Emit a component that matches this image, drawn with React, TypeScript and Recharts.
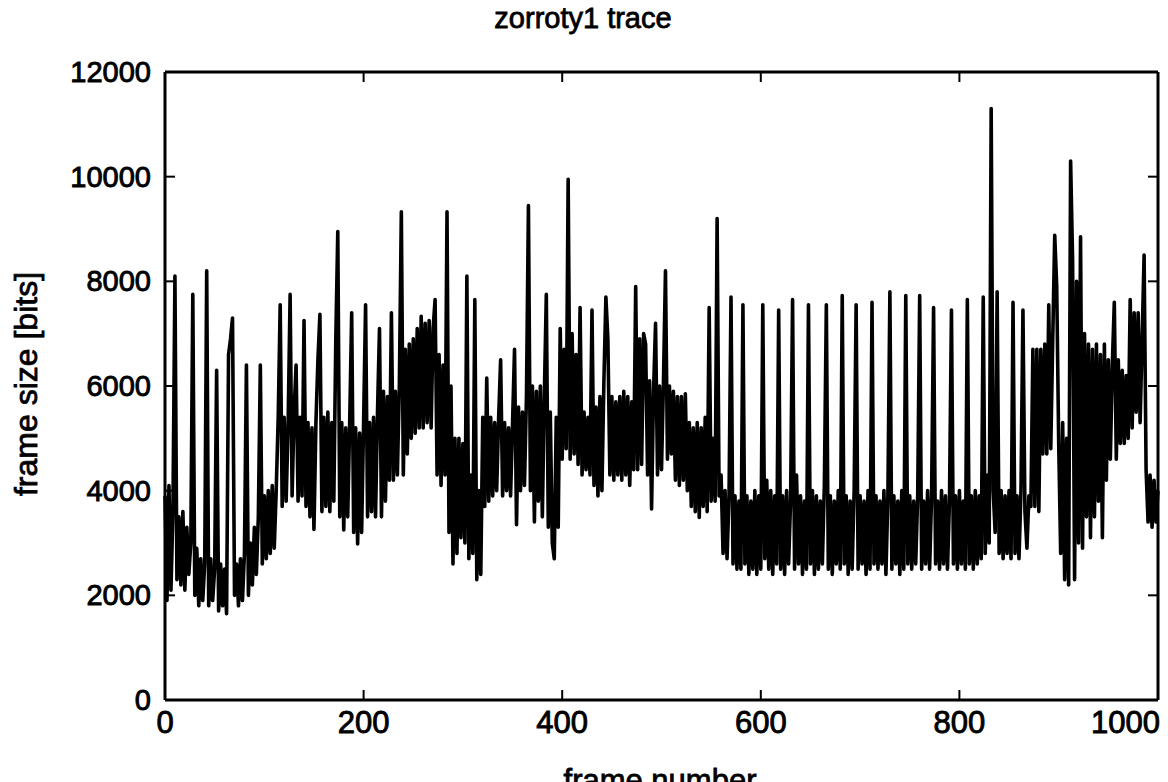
import { LineChart, Line, XAxis, YAxis, ReferenceLine } from "recharts";

// one sample every FRAME_STEP frames (bits)
const FRAME_STEP = 2;
const frameSizes = [
  3900, 1900, 4100, 2100, 3600, 8100, 2300, 3500, 2200, 3600,
  2100, 3300, 2400, 3000, 7750, 2000, 2900, 1800, 2700, 1900,
  2600, 8200, 1800, 2700, 1900, 2500, 6300, 1700, 2600, 1800,
  2500, 1650, 6600, 6900, 7300, 2000, 2600, 1800, 2700, 1900,
  2800, 6400, 2000, 3000, 2200, 3300, 2400, 3500, 6400, 2600,
  3900, 2700, 4000, 2800, 4100, 2900, 4000, 5400, 7550, 3700,
  5400, 3800, 5300, 7750, 3900, 5500, 6400, 3800, 5400, 3900,
  7250, 3700, 5300, 3500, 5200, 3260, 5300, 6500, 7370, 3600,
  5400, 3700, 5500, 3600, 5300, 3800, 6900, 8950, 3500, 5300,
  3250, 5200, 3500, 5300, 7400, 3200, 5200, 2980, 5100, 3200,
  5300, 7550, 3500, 5300, 3600, 5400, 3500, 5500, 7100, 3500,
  5900, 3800, 5800, 4200, 7400, 4200, 5900, 4300, 6000, 9330,
  4300, 6700, 4700, 6800, 5000, 6900, 5100, 7100, 5200, 7330,
  5200, 7200, 5300, 7250, 5200, 7100, 7650, 4300, 6600, 4100,
  6400, 4300, 9330, 3200, 6000, 2600, 5000, 2800, 5000, 3100,
  4900, 3000, 8100, 2700, 4300, 2800, 7650, 2300, 4000, 2400,
  5400, 3700, 6150, 3800, 5400, 3900, 5300, 4000, 5400, 6500,
  3900, 5300, 4000, 5200, 3900, 5300, 6700, 3350, 5600, 4000,
  5500, 4100, 5800, 9450, 4000, 6000, 3400, 5900, 3800, 6000,
  3500, 5800, 7750, 3300, 5500, 3000, 2700, 5400, 3300, 7100,
  4600, 6700, 4800, 9950, 4600, 7000, 4700, 6600, 4500, 7500,
  4300, 5500, 4400, 5400, 4300, 7450, 4100, 5600, 3900, 5800,
  4000, 6100, 7700, 6900, 4300, 5800, 4200, 5700, 4300, 5800,
  4200, 5900, 4300, 5800, 4100, 5700, 4400, 7900, 4400, 6900,
  4500, 7000, 6800, 4300, 6100, 3650, 5900, 7200, 4300, 6000,
  4400, 6100, 8200, 4600, 6000, 4700, 5900, 4200, 5800, 4100,
  5800, 4200, 5850, 4000, 5300, 3700, 5200, 3600, 5300, 3490,
  5200, 3700, 5400, 3600, 7500, 3800, 5000, 3800, 9200, 3900,
  4300, 2800, 4000, 2700, 3900, 7700, 2600, 3900, 2500, 3800,
  2500, 7550, 2600, 3900, 2400, 3800, 2500, 4000, 2400, 3900,
  2500, 7550, 2700, 4200, 2500, 4000, 2400, 3900, 2600, 7450,
  2500, 3900, 2400, 4000, 2600, 3800, 7650, 2500, 4300, 2600,
  3900, 2400, 3800, 2500, 7550, 2600, 4000, 2400, 3900, 2500,
  3800, 2600, 4100, 7550, 2500, 3900, 2400, 3800, 2600, 4000,
  2500, 7730, 2600, 3900, 2400, 3800, 2500, 4000, 7550, 2500,
  3900, 2600, 3800, 2400, 4000, 2500, 7600, 2600, 3900, 2500,
  3800, 2600, 4000, 2400, 3900, 7800, 2500, 3900, 2600, 3800,
  2400, 4000, 2500, 7730, 2600, 3900, 2500, 3800, 2600, 3900,
  7730, 2500, 3800, 2600, 4000, 2500, 3900, 7500, 2600, 3800,
  2500, 4000, 2600, 3900, 2500, 3800, 7450, 2600, 3900, 2500,
  4000, 2600, 3800, 2500, 7650, 2600, 3900, 2500, 4000, 2600,
  3900, 2700, 7700, 2800, 4300, 3000, 11300, 4000, 3200, 7800,
  2800, 4000, 2700, 3900, 2800, 4000, 2700, 7600, 2800, 3900,
  2700, 4000, 7450, 3600, 2900, 3900, 3700, 6700, 3700, 6700,
  3600, 6700, 4700, 6800, 4700, 7550, 4800, 6900, 8880, 7900,
  4900, 2800, 5300, 2300, 5000, 2200, 10300, 8400, 2300, 8000,
  3000, 8850, 2900, 7000, 3500, 6800, 3100, 6700, 3500, 6800,
  3800, 6600, 3100, 6800, 4200, 6500, 4600, 6400, 7600, 4600,
  6500, 4900, 6300, 4900, 6200, 5000, 7650, 5200, 7400, 5500,
  7400, 5300, 6900, 8500, 4400, 3400, 4300, 3300, 4200, 3400,
  4000,
];

const xTicks = [0, 200, 400, 600, 800, 1000];
const yTicks = [0, 2000, 4000, 6000, 8000, 10000, 12000];

const data = frameSizes.map((size, i) => ({ frame: i * FRAME_STEP, size }));

const W = 1168;
const H = 782;
const PLOT = { left: 165, right: 1158, top: 72, bottom: 700 };
const FONT = "'Liberation Sans', Arial, Helvetica, sans-serif";
const TICK_LEN = 10;

const XTick = ({ x, payload }: any) => {
  const v = payload.value;
  const edge = v === xTicks[0] || v === xTicks[xTicks.length - 1];
  return (
    <g>
      {!edge && (
        <>
          <line x1={x} x2={x} y1={PLOT.bottom} y2={PLOT.bottom - TICK_LEN} stroke="#000" strokeWidth={2} />
          <line x1={x} x2={x} y1={PLOT.top} y2={PLOT.top + TICK_LEN} stroke="#000" strokeWidth={2} />
        </>
      )}
      <text
        x={v === 1000 ? x + 2 : x}
        y={PLOT.bottom + 33}
        textAnchor={v === 1000 ? "end" : "middle"}
        fontFamily={FONT}
        fontSize={31}
        fill="#000"
        stroke="#000"
        strokeWidth={0.9}
      >
        {v}
      </text>
    </g>
  );
};

const YTick = ({ y, payload }: any) => {
  const v = payload.value;
  const edge = v === yTicks[0] || v === yTicks[yTicks.length - 1];
  return (
    <g>
      {!edge && (
        <>
          <line x1={PLOT.left} x2={PLOT.left + TICK_LEN} y1={y} y2={y} stroke="#000" strokeWidth={2} />
          <line x1={PLOT.right} x2={PLOT.right - TICK_LEN} y1={y} y2={y} stroke="#000" strokeWidth={2} />
        </>
      )}
      <text
        x={PLOT.left - 14}
        y={y}
        textAnchor="end"
        dominantBaseline="central"
        fontFamily={FONT}
        fontSize={29}
        fill="#000"
        stroke="#000"
        strokeWidth={0.9}
      >
        {v}
      </text>
    </g>
  );
};

export default function App() {
  return (
    <div style={{ position: "absolute", left: 0, top: 0, width: W, height: H, background: "#fff" }}>
      <LineChart
        width={W}
        height={H}
        data={data}
        margin={{ top: PLOT.top, right: W - PLOT.right, bottom: 0, left: 0 }}
      >
        <XAxis
          dataKey="frame"
          type="number"
          domain={[0, 1000]}
          ticks={xTicks}
          interval={0}
          height={H - PLOT.bottom}
          tickLine={false}
          axisLine={{ stroke: "#000", strokeWidth: 3 }}
          tick={<XTick />}
        />
        <YAxis
          type="number"
          domain={[0, 12000]}
          ticks={yTicks}
          interval={0}
          width={PLOT.left}
          tickLine={false}
          axisLine={{ stroke: "#000", strokeWidth: 3 }}
          tick={<YTick />}
        />
        <ReferenceLine y={12000} stroke="#000" strokeWidth={3} ifOverflow="visible" />
        <ReferenceLine x={1000} stroke="#000" strokeWidth={3} ifOverflow="visible" />
        <Line
          type="linear"
          dataKey="size"
          stroke="#000"
          strokeWidth={3.6}
          strokeLinejoin="round"
          dot={false}
          activeDot={false}
          isAnimationActive={false}
        />
      </LineChart>
      <svg width={W} height={H} style={{ position: "absolute", left: 0, top: 0, pointerEvents: "none" }}>
        <text x={583} y={28} textAnchor="middle" fontFamily={FONT} fontSize={29} fill="#000" stroke="#000" strokeWidth={0.8}>
          zorroty1 trace
        </text>
        <text
          x={0}
          y={0}
          transform={`translate(37, ${(PLOT.top + PLOT.bottom) / 2 - 2}) rotate(-90)`}
          textAnchor="middle"
          fontFamily={FONT}
          fontSize={32}
          fill="#000"
          stroke="#000"
          strokeWidth={0.8}
        >
          frame size [bits]
        </text>
        <text x={660} y={791} textAnchor="middle" fontFamily={FONT} fontSize={31} fill="#000" stroke="#000" strokeWidth={0.8}>
          frame number
        </text>
      </svg>
    </div>
  );
}
